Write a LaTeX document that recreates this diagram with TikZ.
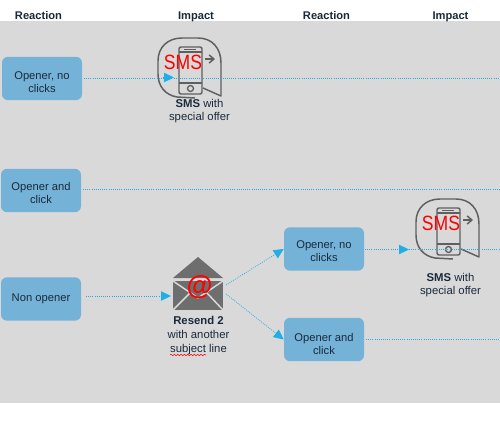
\documentclass[tikz,border=0pt]{standalone}
\usepackage{fontspec}
\setmainfont{Liberation Sans}
\usetikzlibrary{arrows.meta,decorations.pathmorphing}
\definecolor{txt}{HTML}{1A2A3A}
\definecolor{bg}{HTML}{D9D9D9}
\definecolor{boxc}{HTML}{75B2D7}
\definecolor{conn}{HTML}{1FAEE6}
\definecolor{iconc}{HTML}{5F5F5F}
\definecolor{envc}{HTML}{6E6E6E}
\tikzset{
  x=0.75pt,y=-0.75pt,
  headt/.style={font=\bfseries\fontsize{8.35}{9.6}\selectfont,text=txt,inner sep=0pt,anchor=base},
  boxn/.style={fill=boxc,rounded corners=4.5pt,minimum width=60pt,minimum height=32.5pt,inner sep=0pt},
  boxt/.style={inner sep=0pt,align=center,text=txt,font=\fontsize{8.4}{9.9}\selectfont},
  capt/.style={align=center,text=txt,inner sep=0pt,font=\fontsize{8.5}{10}\selectfont},
  linkl/.style={conn,densely dotted,line width=0.6pt},
  linkarrow/.style={linkl,-{Triangle[length=7.5pt,width=7pt,fill=conn]}},
  smsicon/.pic={
    \draw[iconc,line width=1.1pt,line join=round]
      (37,61) -- (19,60) .. controls (7,58) and (0,49) .. (0,37)
      -- (0,24) .. controls (0,10) and (10,1) .. (24,1)
      -- (40,1) .. controls (54,1) and (63,11) .. (63,26)
      -- (63,59) -- (45,51);
    \draw[iconc,line width=1.1pt,rounded corners=1.5pt] (21,10) rectangle (44,57);
    \draw[iconc,line width=0.9pt] (21,15) -- (44,15) (21,46) -- (44,46);
    \draw[iconc,line width=0.9pt] (26,12.5) -- (38,12.5);
    \draw[iconc,line width=1pt] (32.5,51.5) circle (3);
    \draw[iconc,line width=1.1pt,-{Straight Barb[length=3.5pt,width=6pt]}] (47,22) -- (57,22);
    \node[text=red,inner sep=0pt,font=\fontsize{15.5}{16}\selectfont,xscale=0.85,transform shape] at (25,25) {SMS};
  }
}
\begin{document}
\begin{tikzpicture}
\useasboundingbox (0,0) rectangle (500,421);
\fill[white] (0,0) rectangle (500,421);
\fill[bg] (0,21) rectangle (500,403);

\node[headt] (h1) at (38.5,19) {Reaction};
\node[headt] (h2) at (196,19) {Impact};
\node[headt] (h3) at (326.5,19) {Reaction};
\node[headt] (h4) at (450.5,19) {Impact};

\pic at (158,37) {smsicon};
\pic at (416,198) {smsicon};

% envelope
\fill[envc] (198,257) -- (223,278) -- (173,278) -- cycle;
\fill[envc] (173,281) -- (223,281) -- (223,310) -- (173,310) -- cycle;
\draw[bg,line width=1.1pt] (173,281) -- (198,298) -- (223,281);
\draw[bg,line width=1.1pt] (173,310) -- (190,293) (223,310) -- (207,293);
\node[inner sep=0pt,text=red,font=\bfseries\fontsize{20}{20}\selectfont] (envat) at (199.5,287) {@};
\coordinate (envup) at (226,285);
\coordinate (envdn) at (226,294);
\coordinate (envin) at (171,296);

\node[boxn] (b1) at (42,78.5) {};
\node[boxn] (b2) at (41,190.5) {};
\node[boxn] (b3) at (41,299) {};
\node[boxn] (b4) at (324,249) {};
\node[boxn] (b5) at (324,339.5) {};
\node[boxt] (t1) at (42,82) {Opener, no\\clicks};
\node[boxt] (t2) at (41,193) {Opener and\\click};
\node[boxt] (t3) at (41,299) {Non opener};
\node[boxt] (t4) at (324,251) {Opener, no\\clicks};
\node[boxt] (t5) at (324,344) {Opener and\\click};

\coordinate (a1s) at (163,77.5);
\coordinate (a1) at (174,77.5);
\coordinate (e1) at (500,78.5);
\coordinate (e2) at (500,189.5);
\coordinate (a4) at (409,249.5);
\coordinate (e4) at (500,249.5);
\coordinate (e5) at (500,339);
\coordinate (s3) at (86,296);
\coordinate (s1) at (84,78.5);
\coordinate (s2) at (83,189.5);
\coordinate (s4) at (365,249.5);
\coordinate (s5) at (366,339);

\draw[linkl] (s1) -- (e1);
\draw[linkarrow] (a1s) -- (a1);
\draw[linkl] (s2) -- (e2);
\draw[linkarrow] (s3) -- (envin);
\draw[linkarrow] (envup) -- (b4.west);
\draw[linkarrow] (envdn) -- (b5.west);
\draw[linkarrow] (s4) -- (a4);
\draw[linkl] (a4) -- (e4);
\draw[linkl] (s5) -- (e5);

\node[capt] (c1) at (199.5,111) {\textbf{SMS} with\\special offer};
\node[capt] (c2) at (450.5,285) {\textbf{SMS} with\\special offer};
\node[capt,font=\fontsize{8.5}{10.2}\selectfont] (c3) at (198.5,335.5) {\textbf{Resend 2}\\with another\\subject line};
\draw[red,line width=0.4pt,decoration={snake,amplitude=0.5pt,segment length=2.5pt},decorate] (170,355) -- (206,355);
\end{tikzpicture}
\end{document}
